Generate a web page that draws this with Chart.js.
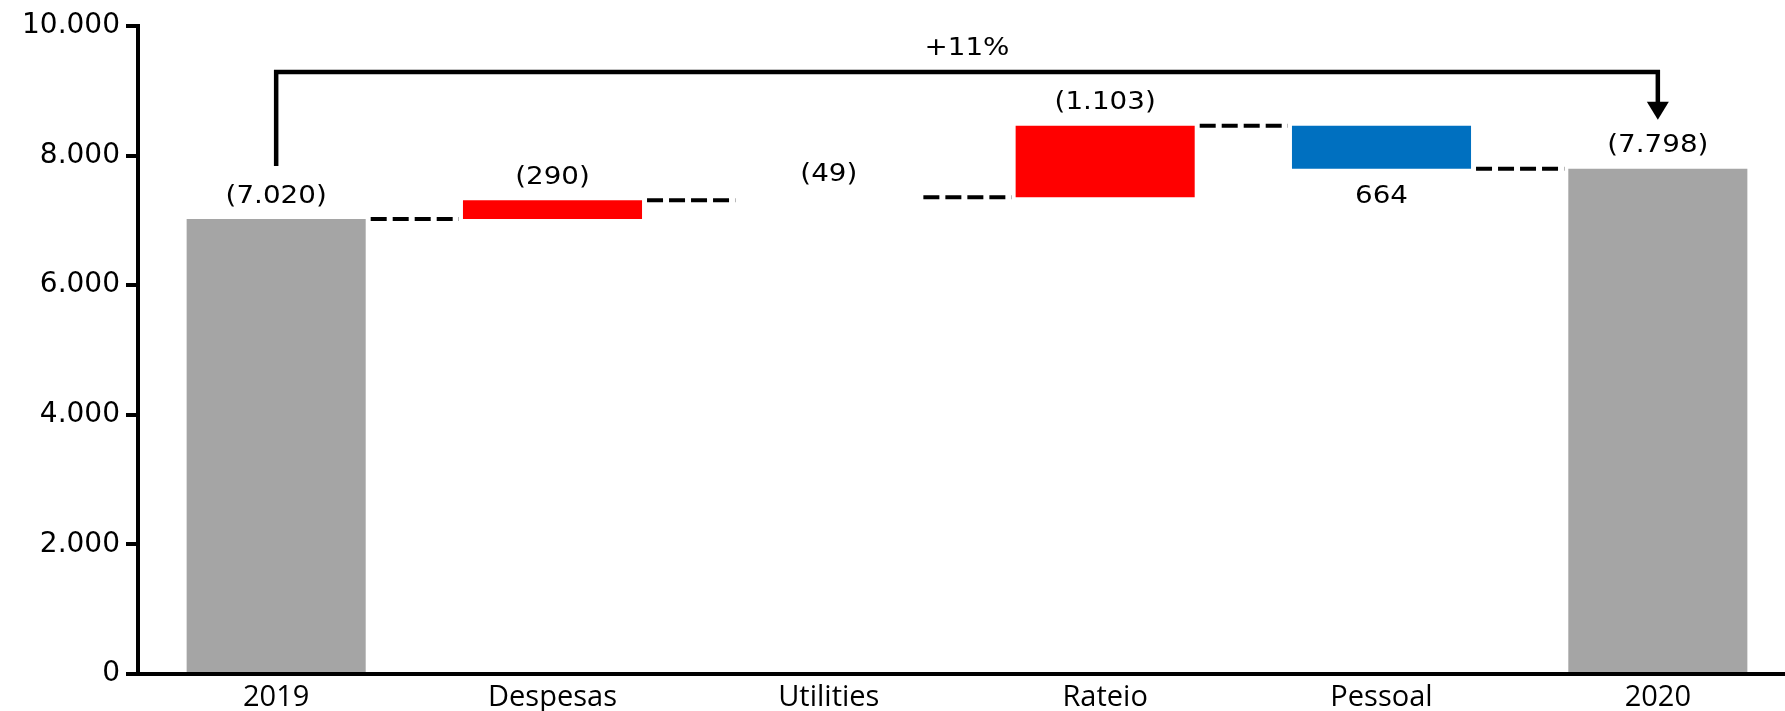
<!DOCTYPE html>
<html>
<head>
<meta charset="utf-8">
<script src="https://cdn.jsdelivr.net/npm/chart.js@4.4.1/dist/chart.umd.min.js"></script>
<style>
  html, body { margin: 0; padding: 0; background: #ffffff; overflow: hidden; }
  #wrap { width: 1796px; height: 711px; }
</style>
</head>
<body>
<div id="wrap"><canvas id="c" width="1796" height="711"></canvas></div>
<script>
// ---- data ----
const categories = ['2019', 'Despesas', 'Utilities', 'Rateio', 'Pessoal', '2020'];
const kinds      = ['total', 'delta', 'delta', 'delta', 'delta', 'total'];
const values     = [7020, 290, 49, 1103, -664, 7798];
const valueLabels = ['(7.020)', '(290)', '(49)', '(1.103)', '664', '(7.798)'];
const yTickValues = [0, 2000, 4000, 6000, 8000, 10000];
const yTickLabels = ['0', '2.000', '4.000', '6.000', '8.000', '10.000'];
const changeLabel = '+11%';

// ---- colours ----
const colTotal = '#A5A5A5';
const colUp = '#FF0000';
const colDown = '#0070C0';

// floating ranges built from the values
const ranges = [];
const ends = [];
let run = 0;
values.forEach((v, i) => {
  if (kinds[i] === 'total') { ranges.push([0, v]); run = v; }
  else { ranges.push([run, run + v]); run = run + v; }
  ends.push(run);
});
const colours = values.map((v, i) => {
  if (kinds[i] === 'total') return colTotal;
  if (categories[i] === 'Utilities') return 'rgba(0,0,0,0)';
  return v >= 0 ? colUp : colDown;
});

const labelFont = '25px "DejaVu Sans"';
const stretch = 1.11;

function wideText(ctx, text, x, y) {
  ctx.save();
  ctx.translate(x, y);
  ctx.scale(stretch, 1);
  ctx.fillText(text, 0, 0);
  ctx.restore();
}

const overlay = {
  id: 'overlay',
  afterDatasetsDraw(chart) {
    const ctx = chart.ctx;
    const xs = chart.scales.x, ys = chart.scales.y;
    const bars = chart.getDatasetMeta(0).data;
    ctx.save();
    // dashed connectors
    ctx.strokeStyle = '#000';
    ctx.lineWidth = 4;
    ctx.setLineDash([16, 6]);
    for (let i = 0; i < bars.length - 1; i++) {
      const y = ys.getPixelForValue(ends[i]);
      const x1 = bars[i].x + bars[i].width / 2 + 5;
      const x2 = bars[i + 1].x - bars[i + 1].width / 2 - 4;
      ctx.beginPath(); ctx.moveTo(x1, y); ctx.lineTo(x2, y); ctx.stroke();
    }
    ctx.setLineDash([]);
    // value labels
    ctx.fillStyle = '#000';
    ctx.font = labelFont;
    ctx.textAlign = 'center';
    ctx.textBaseline = 'middle';
    const labelY = [];
    for (let i = 0; i < bars.length; i++) {
      const r = ranges[i];
      const hi = Math.max(r[0], r[1]), lo = Math.min(r[0], r[1]);
      let y;
      if (values[i] >= 0) y = ys.getPixelForValue(hi) - 23;
      else y = ys.getPixelForValue(lo) + 28;
      labelY.push(y);
      wideText(ctx, valueLabels[i], xs.getPixelForValue(i), y);
    }
    // bracket with arrow
    const xa = xs.getPixelForValue(0);
    const xb = xs.getPixelForValue(categories.length - 1);
    const yTop = chart.chartArea.top + 46;
    const yStart = labelY[0] - 30;
    const yTip = labelY[labelY.length - 1] - 26;
    ctx.lineWidth = 4.5;
    ctx.lineJoin = 'miter';
    ctx.beginPath();
    ctx.moveTo(xa, yStart);
    ctx.lineTo(xa, yTop);
    ctx.lineTo(xb, yTop);
    ctx.lineTo(xb, yTip - 16);
    ctx.stroke();
    ctx.beginPath();
    ctx.moveTo(xb - 11, yTip - 18);
    ctx.lineTo(xb + 11, yTip - 18);
    ctx.lineTo(xb, yTip);
    ctx.closePath();
    ctx.fill();
    wideText(ctx, changeLabel, (xa + xb) / 2, yTop - 24);
    ctx.restore();
  }
};

new Chart(document.getElementById('c'), {
  type: 'bar',
  data: {
    labels: categories,
    datasets: [{
      data: ranges,
      backgroundColor: colours,
      borderWidth: 0,
      categoryPercentage: 1,
      barPercentage: 0.648
    }]
  },
  options: {
    responsive: false,
    animation: false,
    devicePixelRatio: 1,
    layout: { padding: { top: 26, left: 0, right: 0, bottom: 0 } },
    plugins: { legend: { display: false }, tooltip: { enabled: false } },
    scales: {
      x: {
        grid: { display: false, drawTicks: false },
        border: { display: true, color: '#000', width: 4 },
        ticks: { color: '#000', font: { family: '"Open Sans"', size: 29 }, padding: 6, maxRotation: 0 },
        afterFit(s) { s.height = 37; }
      },
      y: {
        min: 0, max: 10000,
        grid: { display: true, drawOnChartArea: false, drawTicks: true, tickLength: 12, color: '#000', lineWidth: 4 },
        border: { display: true, color: '#000', width: 4 },
        ticks: {
          stepSize: 2000,
          color: '#000',
          padding: 6,
          font: { family: '"DejaVu Sans"', size: 28 },
          callback: (v) => { const k = yTickValues.indexOf(v); return k >= 0 ? yTickLabels[k] : ''; }
        },
        afterFit(s) { s.width = 138; }
      }
    }
  },
  plugins: [overlay]
});
</script>
</body>
</html>
